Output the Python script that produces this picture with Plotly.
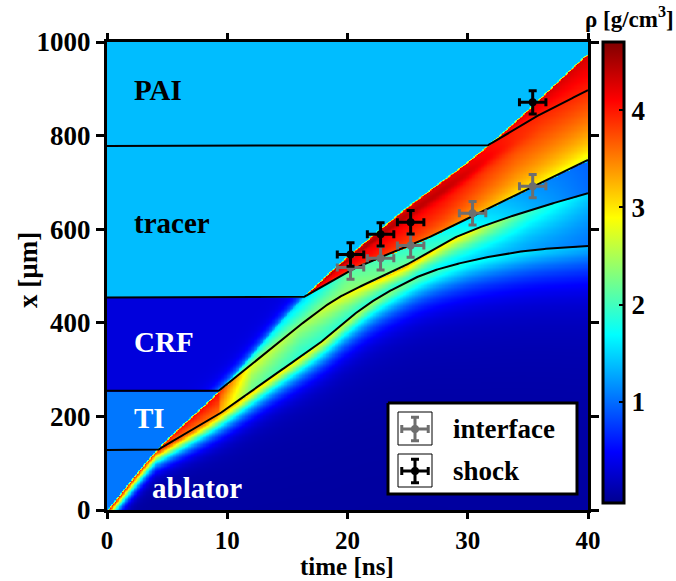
import numpy as np
import plotly.graph_objects as go

# ---------------- data ----------------
t_grid = np.linspace(0, 40, 321)          # time [ns]
x_grid = np.linspace(0, 1000, 401)        # position [um]

layer_names = ["ablator", "TI", "CRF", "tracer", "PAI"]
layer_top = [128, 255, 454, 778, 1000]
layer_rho0 = [1.05, 1.05, 0.32, 1.38, 1.38]

shock_t = [0, 4.1, 9.3, 16.3, 23.6, 31.6, 40]
shock_x = [0, 128, 255, 454, 620, 778, 976]

lineA_t = [4.2, 9.0, 13.3, 18.0, 20.25, 22.2, 24.4, 26.0, 28.0, 32.0, 36.0, 40.0]
lineA_x = [128, 200, 278, 363, 412, 448, 480, 500, 518, 542, 557, 564]
lineB_t = [9.3, 14.4, 19.2, 24.4, 29.1, 34.5, 40]
lineB_x = [255, 361, 453, 517, 584, 635, 677]
lineC_t = [16.3, 20.25, 22.75, 25.25, 30.4, 35.4, 40]
lineC_x = [454, 512, 540, 565, 628, 690, 748]
lineD_t = [31.6, 35.5, 40]
lineD_x = [778, 838, 897]

# compressed-ablator band below line A
ab_t = [0, 4, 10, 20, 30, 40]
ab_peak = [4.1, 3.8, 3.0, 2.3, 1.4, 0.95]
ab_w = [22, 26, 34, 45, 55, 65]
ab_tail = [0.05, 0.1, 0.2, 0.3, 0.35, 0.35]
ab_tail_len = [20, 40, 80, 110, 140, 160]
rho_floor = 0.03
# shocked TI (value at line A / at line B)
ti_t = [9.3, 12, 16, 20, 25, 30, 35, 40]
ti_lo = [3.3, 2.2, 1.9, 1.9, 1.8, 1.5, 1.25, 1.05]
ti_hi = [3.9, 2.8, 2.5, 2.9, 3.3, 2.9, 2.0, 1.5]
# shocked CRF (value at line B / at top)
crf_t = [9.3, 16.3, 20, 25, 30, 35, 40]
crf_lo = [2.5, 2.3, 2.4, 2.2, 1.8, 1.35, 1.0]
crf_hi = [1.6, 1.5, 2.1, 1.9, 1.6, 1.2, 0.95]
# shocked tracer (value at line C / at top)
tr_t = [16.3, 22, 28, 34, 40]
tr_lo = [3.9, 3.8, 3.4, 2.9, 2.6]
tr_hi = [4.3, 4.3, 4.25, 3.95, 3.9]

# measurements
iface_t = [20.25, 22.75, 25.25, 30.4, 35.4]
iface_x = [518, 538, 565, 634, 692]
shock_obs_t = [20.25, 22.75, 25.25, 35.4]
shock_obs_x = [546, 589, 615, 871]
err_t = 1.1
err_x = 25

x_ticks = [0, 10, 20, 30, 40]
y_ticks = [0, 200, 400, 600, 800, 1000]
cb_ticks = [1, 2, 3, 4]
legend_names = ["interface", "shock"]
legend_colors = ['rgb(110,110,110)', 'black']


# ---------------- helpers ----------------
def pchip(xk, yk, xq):
    xk = np.asarray(xk, float); yk = np.asarray(yk, float)
    xq = np.asarray(xq, float)
    n = len(xk)
    if n == 2:
        return np.interp(xq, xk, yk)
    h = np.diff(xk); d = np.diff(yk) / h
    m = np.zeros(n)
    for i in range(1, n - 1):
        if d[i - 1] * d[i] > 0:
            w1 = 2 * h[i] + h[i - 1]; w2 = h[i] + 2 * h[i - 1]
            m[i] = (w1 + w2) / (w1 / d[i - 1] + w2 / d[i])
    m[0] = d[0]; m[-1] = d[-1]
    xc = np.clip(xq, xk[0], xk[-1])
    idx = np.clip(np.searchsorted(xk, xc) - 1, 0, n - 2)
    hh = h[idx]; s = (xc - xk[idx]) / hh
    h00 = 2 * s**3 - 3 * s**2 + 1; h10 = s**3 - 2 * s**2 + s
    h01 = -2 * s**3 + 3 * s**2; h11 = s**3 - s**2
    return h00 * yk[idx] + h10 * hh * m[idx] + h01 * yk[idx + 1] + h11 * hh * m[idx + 1]


def track(tp, xp, t):
    t = np.asarray(t, float)
    return np.where(t < tp[0], xp[0], pchip(tp, xp, t))


S1 = track(shock_t, shock_x, t_grid)
A1 = track(lineA_t, lineA_x, t_grid)
B1 = track(lineB_t, lineB_x, t_grid)
C1 = track(lineC_t, lineC_x, t_grid)
D1 = track(lineD_t, lineD_x, t_grid)

T, X = np.meshgrid(t_grid, x_grid)
S = S1[None, :]; A = A1[None, :]; B = B1[None, :]; C = C1[None, :]; D = D1[None, :]

# unshocked material
rho_un = np.select([X < layer_top[0], X < layer_top[1], X < layer_top[2], X < layer_top[3]],
                   layer_rho0[:4], default=layer_rho0[4])
crf = (X >= layer_top[1]) & (X < layer_top[2])
rho_un = np.where(crf, rho_un + (1.3 - layer_rho0[2]) * np.exp(-np.maximum(X - S, 0) / 15.0), rho_un)

# shocked material
pk = np.interp(T, ab_t, ab_peak); wd = np.interp(T, ab_t, ab_w)
tl = np.interp(T, ab_t, ab_tail); tll = np.interp(T, ab_t, ab_tail_len)
top_ab = np.minimum(A, S)
dd = np.maximum(top_ab - X, 0)
r_ab = rho_floor + pk * np.exp(-(dd / wd)**1.4) + tl * np.exp(-dd / tll)

s_ti_early = np.clip((X - A) / np.maximum(S - A, 1e-6), 0, 1)
s_ti = np.clip((X - A) / np.maximum(B - A, 1e-6), 0, 1)
r_ti = np.where(T < shock_t[2], 3.5 + 0.6 * s_ti_early,
                np.interp(T, ti_t, ti_lo) + (np.interp(T, ti_t, ti_hi) - np.interp(T, ti_t, ti_lo)) * s_ti**1.5)

top_crf = np.minimum(S, C)
s_crf = np.clip((X - B) / np.maximum(top_crf - B, 1e-6), 0, 1)
r_crf = np.interp(T, crf_t, crf_lo) + (np.interp(T, crf_t, crf_hi) - np.interp(T, crf_t, crf_lo)) * s_crf

top_tr = np.minimum(S, D)
s_tr = np.clip((X - C) / np.maximum(top_tr - C, 1e-6), 0, 1)
r_tr = (np.interp(T, tr_t, tr_lo) + (np.interp(T, tr_t, tr_hi) - np.interp(T, tr_t, tr_lo)) * s_tr**0.6
        + 0.22 * np.exp(-((s_tr - 0.8) / 0.12)**2) * np.clip((36 - T) / 6, 0, 1))

s_pai = np.clip((X - D) / np.maximum(S - D, 1e-6), 0, 1)
r_pai = 3.95 + 0.35 * s_pai

rho_sh = np.select([X < A, X < B, X < C, X < D], [r_ab, r_ti, r_crf, r_tr], default=r_pai)
wsh = np.clip(0.5 + (S - X) / 4.0, 0, 1)
rho = wsh * rho_sh + (1 - wsh) * rho_un

# ---------------- figure ----------------
W, H = 676, 581
ML, MR, MT, MB = 107, 88, 42, 71
PW, PH = W - ML - MR, H - MT - MB
T_RANGE, X_RANGE = [0, 40], [0, 1000]


def px_t(px):   # pixel column -> time
    return T_RANGE[0] + (px - ML) / PW * (T_RANGE[1] - T_RANGE[0])


def px_x(py):   # pixel row -> position
    return X_RANGE[0] + (H - MB - py) / PH * (X_RANGE[1] - X_RANGE[0])


def px_paper(px, py):
    return (px - ML) / PW, (H - MB - py) / PH


jet = [[0.0, 'rgb(0,0,143)'], [0.111, 'rgb(0,0,255)'], [0.365, 'rgb(0,255,255)'],
       [0.619, 'rgb(255,255,0)'], [0.873, 'rgb(255,0,0)'], [1.0, 'rgb(128,0,0)']]
FONT = 'Liberation Serif'
BOLD = dict(family=FONT, color='black', weight='bold')

fig = go.Figure()
fig.add_trace(go.Heatmap(
    x=t_grid, y=x_grid, z=np.round(rho, 3), colorscale=jet, zmin=-0.04, zmax=4.70,
    zsmooth='best', showscale=True, hoverinfo='skip', showlegend=False,
    colorbar=dict(x=1.031, xanchor='left', xpad=0, y=1, yanchor='top', ypad=0,
                  len=0.985, lenmode='fraction', thickness=21, outlinewidth=3,
                  outlinecolor='black', tickvals=cb_ticks, ticks='inside', ticklen=6,
                  tickwidth=2, tickcolor='black', tickfont=dict(size=27, **BOLD))))

t_line = np.linspace(0, 40, 401)
for tp, xp in [(lineA_t, lineA_x), (lineB_t, lineB_x), (lineC_t, lineC_x), (lineD_t, lineD_x)]:
    fig.add_trace(go.Scatter(x=t_line, y=track(tp, xp, t_line), mode='lines',
                             line=dict(color='black', width=2), showlegend=False,
                             hoverinfo='skip'))


def err_marker(tt, xx, col, name):
    return go.Scatter(
        x=tt, y=xx, mode='markers', name=name, showlegend=False,
        marker=dict(color=col, size=8, symbol='circle'),
        error_x=dict(type='constant', value=err_t, color=col, thickness=3, width=4),
        error_y=dict(type='constant', value=err_x, color=col, thickness=3, width=4))


fig.add_trace(err_marker(iface_t, iface_x, legend_colors[0], legend_names[0]))
fig.add_trace(err_marker(shock_obs_t, shock_obs_x, legend_colors[1], legend_names[1]))


def rect_trace(px0, py0, px1, py1, lw, fill):
    xs = [px_t(px0), px_t(px1), px_t(px1), px_t(px0), px_t(px0)]
    ys = [px_x(py0), px_x(py0), px_x(py1), px_x(py1), px_x(py0)]
    return go.Scatter(x=xs, y=ys, mode='lines', fill='toself' if fill else 'none',
                      fillcolor='white', line=dict(color='black', width=lw),
                      showlegend=False, hoverinfo='skip')


# legend box (drawn by hand so that the error-bar symbols show)
fig.add_trace(rect_trace(388, 403, 577, 494, 3, True))
for i, (nm, col) in enumerate(zip(legend_names, legend_colors)):
    cyp = 429 + i * 42
    fig.add_trace(rect_trace(398, cyp - 17, 432, cyp + 16, 1, False))
    fig.add_trace(err_marker([px_t(415)], [px_x(cyp)], col, nm))
    lx, ly = px_paper(451, cyp)
    fig.add_annotation(xref='paper', yref='paper', x=lx, y=ly, text=nm, showarrow=False,
                       xanchor='left', yanchor='middle', font=dict(size=27, **BOLD))

labels = [("PAI", 2.1, 897, 'black'), ("tracer", 2.1, 613, 'black'), ("CRF", 2.1, 359, 'white'),
          ("TI", 2.1, 197, 'white'), ("ablator", 3.6, 47, 'white')]
for txt, tx, ty, col in labels:
    fig.add_annotation(x=tx, y=ty, text=txt, showarrow=False, xanchor='left', yanchor='middle',
                       font=dict(family=FONT, size=29, color=col, weight='bold'))

# colorbar title
cx, cy = px_paper(629, 18)
fig.add_annotation(xref='paper', yref='paper', x=cx, y=cy, text='ρ [g/cm<sup>3</sup>]',
                   showarrow=False, xanchor='center', yanchor='middle',
                   font=dict(size=23, **BOLD))
# axis titles
ax, ay = px_paper(347, 566)
fig.add_annotation(xref='paper', yref='paper', x=ax, y=ay, text='time [ns]', showarrow=False,
                   xanchor='center', yanchor='middle', height=26, font=dict(size=25, **BOLD))
ax, ay = px_paper(28, 270)
fig.add_annotation(xref='paper', yref='paper', x=ax, y=ay, text='x [µm]', showarrow=False,
                   xanchor='center', yanchor='middle', textangle=-90, font=dict(size=27, **BOLD))

axis_common = dict(showline=True, linewidth=3, linecolor='black', mirror='ticks', ticks='outside',
                   tickwidth=3, tickcolor='black', showgrid=False, zeroline=False,
                   automargin=False)
fig.update_xaxes(range=T_RANGE, tickvals=x_ticks, ticklen=6, tickfont=dict(size=25, **BOLD),
                 **axis_common)
fig.update_yaxes(range=X_RANGE, tickvals=y_ticks, ticklen=8, tickfont=dict(size=27, **BOLD),
                 **axis_common)

fig.update_layout(
    width=W, height=H, margin=dict(l=ML, r=MR, t=MT, b=MB, autoexpand=False),
    paper_bgcolor='white', plot_bgcolor='white', showlegend=False,
)

fig.write_html("out.html")
